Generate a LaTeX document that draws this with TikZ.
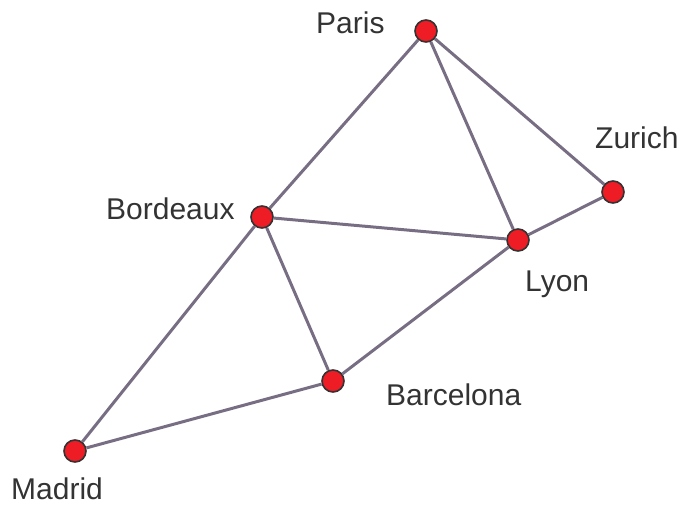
\documentclass[tikz,border=0pt]{standalone}
\usepackage{fontspec}
\setmainfont{Liberation Sans}
\definecolor{cityred}{HTML}{EE1C25}
\definecolor{roadgray}{HTML}{786E84}
\definecolor{labelgray}{HTML}{333333}
\begin{document}
\begin{tikzpicture}[x=1pt, y=-1pt,
    city/.style={draw=labelgray, line width=1.6pt, circle, fill=cityred, inner sep=0pt, minimum size=22pt},
    citylabel/.style={anchor=base west, inner sep=0pt, text=labelgray, font=\fontsize{30}{36}\selectfont},
    road/.style={draw=roadgray, line width=3pt}]
        \useasboundingbox (0,0) rectangle (684,505);
        \node (paris) [city] at (426,31) {};
        \node (zurich) [city] at (613,192) {};
        \node (bordeaux) [city] at (262,217) {};
        \node (lyon) [city] at (518,240) {};
        \node (barcelona) [city] at (333,381) {};
        \node (madrid) [city] at (75,451) {};

        \node (parisL) [citylabel] at (316,34) {Paris};
        \node (zurichL) [citylabel] at (595,149) {Zurich};
        \node (bordeauxL) [citylabel] at (106,219) {Bordeaux};
        \node (lyonL) [citylabel] at (525,291) {Lyon};
        \node (barcelonaL) [citylabel] at (386,405) {Barcelona};
        \node (madridL) [citylabel] at (11,499) {Madrid};

        \draw[road] (paris) -- (bordeaux);
        \draw[road] (paris) -- (lyon);
        \draw[road] (paris) -- (zurich);
        \draw[road] (zurich) -- (lyon);
        \draw[road] (bordeaux) -- (lyon);
        \draw[road] (bordeaux) -- (barcelona);
        \draw[road] (bordeaux) -- (madrid);
        \draw[road] (lyon) -- (barcelona);
        \draw[road] (barcelona) -- (madrid);
    \end{tikzpicture}
\end{document}
